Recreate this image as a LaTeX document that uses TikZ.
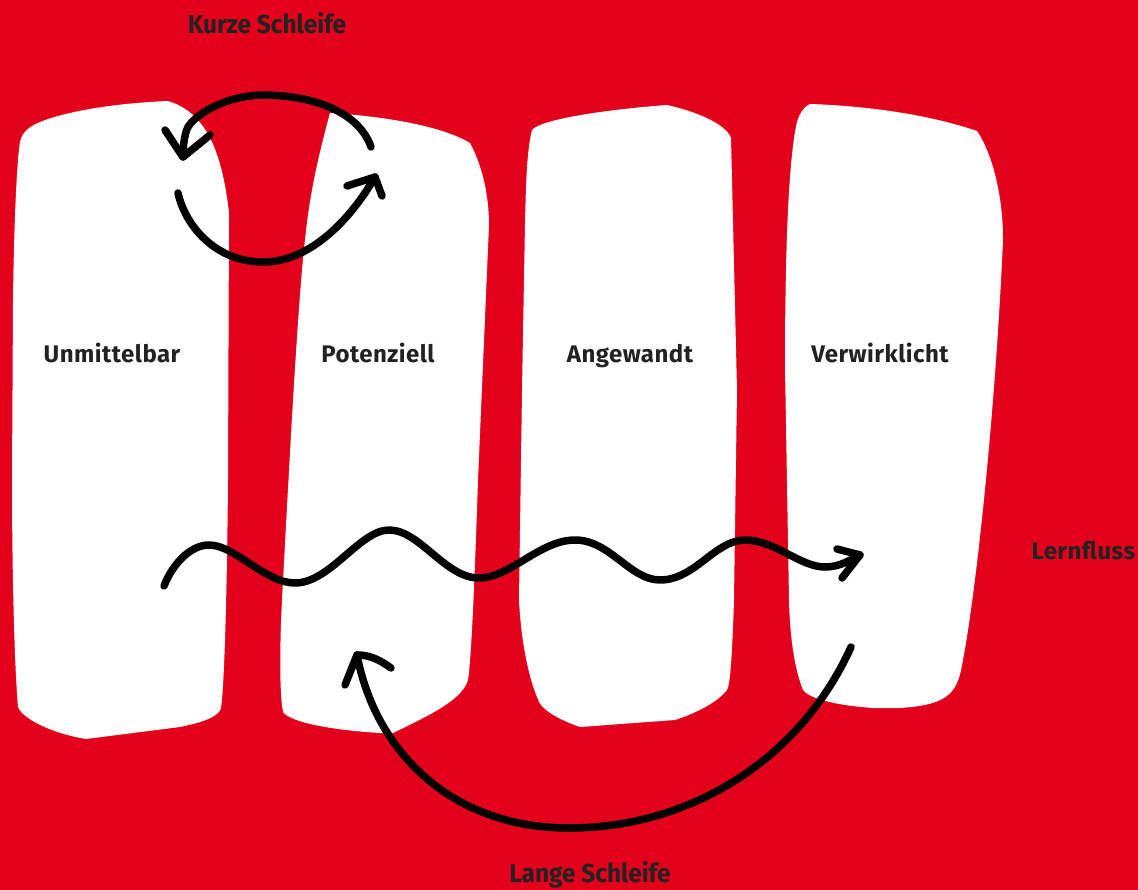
\documentclass[tikz,border=0pt]{standalone}
\usepackage{fontspec}
\setmainfont{Fira Sans}[LetterSpace=2]
\newfontfamily\capfont[FakeStretch=0.94]{Fira Sans}
\definecolor{bgred}{HTML}{E2001A}
\definecolor{ink}{HTML}{222222}
\begin{document}
\begin{tikzpicture}[x=1pt, y=-1pt,
  stroke/.style={line width=7.5pt, line cap=round, line join=round},
  label/.style={text=ink, anchor=base, font=\fontsize{24}{26}\selectfont\bfseries},
  caption/.style={text=ink, anchor=base, font=\fontsize{26}{28}\selectfont\capfont\bfseries}]
\fill[bgred] (0,0) rectangle (1138,890);
\useasboundingbox (0,0) rectangle (1138,890);
\fill[white] (20,142) .. controls (22,132) and (30,126) .. (40,122) .. controls (70,110) and (120,103) .. (168,101) .. controls (205,112) and (222,150) .. (229,213) -- (228,480) .. controls (227,600) and (224,690) .. (221,708) .. controls (219,716) and (205,722) .. (180,727) -- (86,739) .. controls (50,733) and (22,718) .. (18,707) .. controls (14,660) and (12,560) .. (12,480) -- (13,300) .. controls (14,220) and (17,160) .. (20,142) -- cycle;
\fill[white] (330,113) .. controls (380,116) and (440,125) .. (470,143) .. controls (482,165) and (489,195) .. (489,225) -- (478,480) .. controls (474,600) and (471,660) .. (468,680) .. controls (462,700) and (430,715) .. (393,733) -- (380,733) .. controls (330,730) and (290,722) .. (283,712) .. controls (279,690) and (280,640) .. (282,600) .. controls (290,450) and (298,300) .. (305,240) .. controls (310,190) and (320,150) .. (330,113) -- cycle;
\fill[white] (532,130) .. controls (540,120) and (600,110) .. (667,105) .. controls (690,110) and (725,122) .. (731,138) -- (737,390) -- (734,600) .. controls (732,660) and (730,685) .. (727,690) .. controls (715,705) and (690,715) .. (675,720) -- (580,727) .. controls (560,720) and (540,710) .. (537,697) .. controls (528,675) and (521,640) .. (519,600) -- (522,390) -- (525,223) .. controls (526,180) and (527,150) .. (532,130) -- cycle;
\fill[white] (810,104) .. controls (870,106) and (930,115) .. (977,131) .. controls (990,150) and (1003,190) .. (1003,240) .. controls (995,420) and (975,600) .. (962,665) .. controls (957,695) and (945,705) .. (900,708) -- (873,708) .. controls (830,705) and (808,697) .. (803,690) .. controls (795,670) and (790,640) .. (789,600) -- (785,367) .. controls (785,260) and (788,160) .. (797,122) .. controls (800,112) and (805,106) .. (810,104) -- cycle;
\node[label] (unmittelbar) at (112,363) {Unmittelbar};
\node[label] (potenziell) at (378,363) {Potenziell};
\node[label] (angewandt) at (630,363) {Angewandt};
\node[label] (verwirklicht) at (880,363) {Verwirklicht};
\node[label, anchor=base west] (lernfluss) at (1028,559) {Lernfluss};
\node[caption] (kurz) at (267,34) {Kurze Schleife};
\node[caption] (lang) at (590,882) {Lange Schleife};
\coordinate (kurzA) at (371,147);
\coordinate (kurzAtip) at (183,157);
\coordinate (kurzB) at (178,193);
\coordinate (kurzBtip) at (375,177);
\coordinate (flussA) at (164,586);
\coordinate (flussTip) at (860,555);
\coordinate (langA) at (851,647);
\coordinate (langTip) at (357,655);
\draw[stroke] (kurzA) .. controls (360,115) and (320,96) .. (265,95) .. controls (225,95) and (195,115) .. (188,127) .. controls (184,135) and (183,148) .. (kurzAtip);
\draw[stroke] (165,130) -- (kurzAtip) -- (210,135);
\draw[stroke] (kurzB) .. controls (185,225) and (215,262) .. (263,262) .. controls (310,262) and (350,220) .. (kurzBtip);
\draw[stroke] (347,186) -- (kurzBtip) -- (382,196);
\draw[stroke] (flussA) .. controls (172,565) and (190,545) .. (209,545) .. controls (235,545) and (265,583) .. (295,583) .. controls (330,583) and (360,530) .. (389,530) .. controls (420,530) and (445,578) .. (479,578) .. controls (510,578) and (540,540) .. (575,540) .. controls (610,540) and (630,580) .. (660,580) .. controls (695,580) and (715,540) .. (745,540) .. controls (775,540) and (800,567) .. (825,567) .. controls (840,567) and (850,560) .. (flussTip);
\draw[stroke] (837,549) -- (flussTip) -- (842,578);
\draw[stroke] (langA) .. controls (800,760) and (690,828) .. (569,828) .. controls (450,828) and (375,750) .. (langTip);
\draw[stroke] (345,685) -- (langTip) .. controls (370,655) and (380,660) .. (391,668);
\end{tikzpicture}
\end{document}
